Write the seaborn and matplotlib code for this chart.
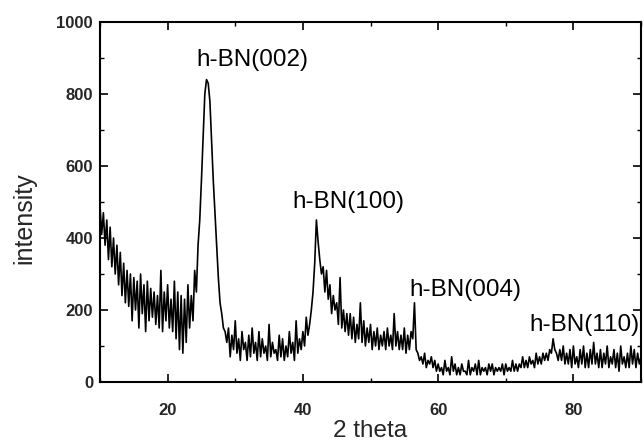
import numpy as np
import pandas as pd
import matplotlib
matplotlib.use("Agg")
import matplotlib.pyplot as plt
import seaborn as sns
from matplotlib.ticker import MultipleLocator

# 2-theta grid start/step (degrees) and intensity, 4 values per degree
theta_start = 10.0
theta_step = 0.25
intensity = [
    490, 410, 470, 380,   # 10
    450, 340, 430, 320,   # 11
    400, 300, 380, 270,   # 12
    360, 240, 330, 220,   # 13
    310, 210, 300, 170,   # 14
    290, 200, 280, 150,   # 15
    300, 190, 270, 140,   # 16
    280, 170, 260, 180,   # 17
    250, 160, 240, 150,   # 18
    310, 140, 250, 170,   # 19
    270, 150, 230, 140,   # 20
    280, 120, 250, 90,    # 21
    240, 80, 230, 110,    # 22
    270, 150, 240, 170,   # 23
    310, 250, 380, 450,   # 24
    560, 680, 800, 840,   # 25
    830, 780, 670, 560,   # 26
    470, 380, 290, 220,   # 27
    190, 150, 140, 110,   # 28
    150, 70, 130, 90,     # 29
    170, 80, 120, 60,     # 30
    140, 90, 110, 60,     # 31
    130, 70, 150, 80,     # 32
    110, 60, 140, 70,     # 33
    120, 80, 100, 60,     # 34
    160, 70, 110, 80,     # 35
    90, 60, 130, 70,      # 36
    120, 60, 100, 70,     # 37
    140, 80, 110, 60,     # 38
    170, 80, 120, 90,     # 39
    140, 100, 180, 130,   # 40
    160, 200, 250, 330,   # 41
    450, 390, 340, 300,   # 42
    320, 250, 310, 230,   # 43
    270, 190, 240, 200,   # 44
    220, 160, 290, 150,   # 45
    200, 140, 190, 130,   # 46
    190, 120, 180, 110,   # 47
    160, 120, 220, 110,   # 48
    170, 100, 150, 110,   # 49
    160, 90, 140, 100,    # 50
    150, 90, 130, 100,    # 51
    140, 90, 150, 100,    # 52
    130, 90, 190, 100,    # 53
    140, 90, 130, 90,     # 54
    150, 80, 130, 90,     # 55
    140, 120, 220, 90,    # 56
    80, 60, 70, 50,       # 57
    80, 40, 60, 50,       # 58
    70, 40, 60, 30,       # 59
    50, 30, 40, 20,       # 60
    60, 30, 40, 20,       # 61
    70, 30, 50, 20,       # 62
    40, 20, 50, 30,       # 63
    30, 20, 60, 20,       # 64
    40, 30, 50, 20,       # 65
    60, 20, 40, 30,       # 66
    40, 20, 50, 30,       # 67
    50, 20, 40, 30,       # 68
    40, 30, 50, 20,       # 69
    50, 30, 40, 30,       # 70
    60, 30, 50, 30,       # 71
    50, 40, 70, 40,       # 72
    60, 40, 70, 50,       # 73
    60, 40, 80, 50,       # 74
    70, 50, 80, 60,       # 75
    80, 60, 90, 80,       # 76
    120, 90, 80, 60,      # 77
    90, 60, 100, 50,      # 78
    80, 50, 90, 40,       # 79
    100, 50, 70, 40,      # 80
    90, 50, 100, 40,      # 81
    80, 40, 90, 50,       # 82
    110, 50, 80, 40,      # 83
    90, 40, 80, 50,       # 84
    100, 40, 70, 50,      # 85
    90, 40, 80, 30,       # 86
    100, 50, 70, 40,      # 87
    80, 40, 100, 50,      # 88
    90, 40, 80, 50,       # 89
    70,                   # 90
]
theta = [theta_start + i * theta_step for i in range(len(intensity))]

peak_labels = ["h-BN(002)", "h-BN(100)", "h-BN(004)", "h-BN(110)"]
peak_label_x = [32.5, 46.7, 64.1, 81.7]
peak_label_y = [894, 500, 256, 158]

x_ticks = [20, 40, 60, 80]
y_ticks = [0, 200, 400, 600, 800, 1000]

sns.set_style("ticks")
plt.rcParams["font.family"] = ["Liberation Sans", "DejaVu Sans"]

fig = plt.figure(figsize=(6.44, 4.41), dpi=100)
ax = fig.add_axes([100 / 644, 59 / 441, 541 / 644, 360 / 441])

df = pd.DataFrame({"theta": theta, "intensity": intensity})
sns.lineplot(data=df, x="theta", y="intensity", ax=ax, color="black",
             linewidth=1.2, estimator=None, sort=False)

for lab, lx, ly in zip(peak_labels, peak_label_x, peak_label_y):
    ax.text(lx, ly, lab, ha="center", va="center", fontsize=17.5,
            color="black", clip_on=False)

ax.set_xlim(10, 90)
ax.set_ylim(0, 1000)
ax.set_xticks(x_ticks)
ax.set_yticks(y_ticks)
ax.xaxis.set_minor_locator(MultipleLocator(10))
ax.yaxis.set_minor_locator(MultipleLocator(100))
ax.tick_params(which="both", direction="in", top=True, right=True, color="black")
ax.tick_params(which="major", length=6, width=1.2, labelsize=12)
ax.tick_params(axis="x", which="major", pad=15)
ax.tick_params(axis="y", which="major", pad=5)
ax.tick_params(which="minor", length=3, width=1.0)
for lbl in ax.get_xticklabels() + ax.get_yticklabels():
    lbl.set_fontweight("bold")
for s in ax.spines.values():
    s.set_color("black")
    s.set_linewidth(1.5)

ax.set_xlabel("2 theta", fontsize=17.5, va="center")
ax.xaxis.set_label_coords(0.5, -0.137)
ax.set_ylabel("intensity", fontsize=18, va="center")
ax.yaxis.set_label_coords(-0.139, 0.456)

fig.savefig("out.png", dpi=100)
